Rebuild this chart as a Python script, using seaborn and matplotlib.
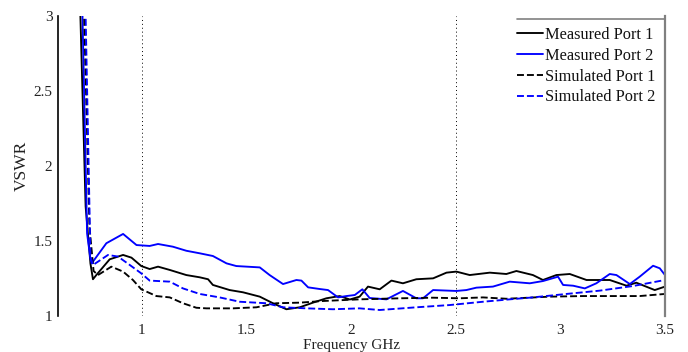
import numpy as np
import pandas as pd
import matplotlib
matplotlib.use("Agg")
import matplotlib.pyplot as plt
import seaborn as sns
from matplotlib.lines import Line2D

# ---------------- data ----------------
meas1_f = [0.700, 0.707, 0.732, 0.755, 0.767, 0.783, 0.847, 0.911, 0.951, 0.998, 1.038, 1.078,
           1.134, 1.213, 1.277, 1.317, 1.340, 1.420, 1.484, 1.564, 1.627, 1.691, 1.755, 1.818,
           1.882, 1.946, 1.994, 2.041, 2.081, 2.137, 2.193, 2.248, 2.312, 2.392, 2.456, 2.503,
           2.567, 2.663, 2.742, 2.790, 2.869, 2.917, 2.981, 3.045, 3.125, 3.236, 3.316, 3.363,
           3.451, 3.500]
meas1_v = [3.40, 3.00, 1.73, 1.35, 1.245, 1.273, 1.378, 1.407, 1.389, 1.333, 1.313, 1.329,
           1.307, 1.273, 1.258, 1.245, 1.207, 1.173, 1.158, 1.129, 1.085, 1.045, 1.058, 1.089,
           1.118, 1.133, 1.110, 1.129, 1.196, 1.178, 1.236, 1.218, 1.245, 1.251, 1.289, 1.296,
           1.273, 1.289, 1.280, 1.300, 1.273, 1.240, 1.273, 1.280, 1.240, 1.240, 1.202, 1.222,
           1.173, 1.196]

meas2_f = [0.710, 0.717, 0.739, 0.755, 0.761, 0.831, 0.911, 0.975, 1.038, 1.078, 1.149, 1.213,
           1.277, 1.340, 1.405, 1.452, 1.564, 1.611, 1.675, 1.739, 1.763, 1.795, 1.850, 1.890,
           1.938, 1.978, 2.018, 2.054, 2.089, 2.169, 2.248, 2.312, 2.344, 2.392, 2.503, 2.551,
           2.599, 2.678, 2.758, 2.854, 2.917, 2.989, 3.013, 3.061, 3.117, 3.172, 3.236, 3.268,
           3.332, 3.379, 3.443, 3.475, 3.500]
meas2_v = [3.40, 3.00, 1.55, 1.38, 1.351, 1.485, 1.547, 1.473, 1.467, 1.480, 1.462, 1.435,
           1.418, 1.400, 1.351, 1.333, 1.324, 1.273, 1.213, 1.240, 1.236, 1.191, 1.180, 1.173,
           1.124, 1.133, 1.140, 1.178, 1.120, 1.111, 1.167, 1.118, 1.118, 1.173, 1.167, 1.173,
           1.189, 1.196, 1.229, 1.218, 1.233, 1.262, 1.207, 1.202, 1.184, 1.218, 1.280, 1.273,
           1.213, 1.262, 1.335, 1.318, 1.273]

sim1_f = [0.718, 0.725, 0.750, 0.770, 0.791, 0.855, 0.911, 0.958, 0.998, 1.070, 1.134, 1.197,
          1.261, 1.309, 1.436, 1.548, 1.643, 1.755, 1.866, 2.040, 2.233, 2.392, 2.519, 2.630,
          2.742, 2.790, 2.949, 3.108, 3.268, 3.379, 3.500]
sim1_v = [3.40, 3.00, 1.60, 1.30, 1.273, 1.329, 1.296, 1.240, 1.178, 1.133, 1.124, 1.085,
          1.055, 1.051, 1.051, 1.058, 1.085, 1.089, 1.100, 1.111, 1.118, 1.122, 1.118, 1.124,
          1.115, 1.118, 1.129, 1.133, 1.133, 1.133, 1.147]

sim2_f = [0.725, 0.732, 0.755, 0.767, 0.839, 0.887, 0.943, 0.998, 1.038, 1.134, 1.197, 1.277,
          1.372, 1.468, 1.596, 1.675, 1.787, 1.914, 2.040, 2.137, 2.312, 2.471, 2.630, 2.758,
          2.869, 3.029, 3.188, 3.348, 3.500]
sim2_v = [3.40, 3.00, 1.396, 1.340, 1.407, 1.396, 1.340, 1.284, 1.236, 1.229, 1.184, 1.147,
          1.124, 1.095, 1.085, 1.058, 1.051, 1.045, 1.051, 1.040, 1.058, 1.073, 1.095, 1.111,
          1.124, 1.147, 1.169, 1.200, 1.240]

labels = ["Measured Port 1", "Measured Port 2", "Simulated Port 1", "Simulated Port 2"]
x_ticks = [1, 1.5, 2, 2.5, 3, 3.5]
x_tick_labels = ["1", "1.5", "2", "2.5", "3", "3.5"]
y_ticks = [1, 1.5, 2, 2.5, 3]
y_tick_labels = ["1", "1.5", "2", "2.5", "3"]
grid_x = [1, 2.5]

# ---------------- style ----------------
sns.set_theme(style="white")
plt.rcParams["font.family"] = ["Liberation Serif", "DejaVu Serif"]
plt.rcParams["font.size"] = 10.5

fig = plt.figure(figsize=(6.88, 3.52), dpi=100)
ax = fig.add_axes([58 / 688, 1 - 316 / 352, (665 - 58) / 688, 300 / 352])

series = [
    (meas1_f, meas1_v, labels[0], "black", "-"),
    (meas2_f, meas2_v, labels[1], "#0000ff", "-"),
    (sim1_f, sim1_v, labels[2], "black", "--"),
    (sim2_f, sim2_v, labels[3], "#0000ff", "--"),
]
for f, v, lab, col, ls in series:
    df = pd.DataFrame({"Frequency": f, "VSWR": v})
    sns.lineplot(data=df, x="Frequency", y="VSWR", ax=ax, color=col,
                 linestyle=ls, linewidth=1.35, label=lab, sort=False)

for gx in grid_x:
    ax.axvline(gx, color="black", linestyle=(0, (1, 3)), linewidth=0.7, zorder=0)

ax.set_xlim(0.6, 3.5)
ax.set_ylim(1, 3)
ax.set_xticks(x_ticks)
ax.set_xticklabels(x_tick_labels)
ax.set_yticks(y_ticks)
ax.set_yticklabels(y_tick_labels)
ax.tick_params(axis="both", length=0, labelsize=11, colors="#222222")
ax.tick_params(axis="x", pad=6)
ax.tick_params(axis="y", pad=4)

ax.set_xlabel("Frequency GHz", fontsize=11, labelpad=1, color="#222222")
ax.xaxis.set_label_coords(0.483, -0.075)
ax.set_ylabel("VSWR", fontsize=12.5, color="#222222")
ax.yaxis.set_label_coords(-0.046, 0.5)

for s in ["top", "bottom"]:
    ax.spines[s].set_visible(False)
ax.spines["left"].set_color("black")
ax.spines["left"].set_linewidth(1.2)
ax.spines["right"].set_color("#808080")
ax.spines["right"].set_linewidth(1.6)

leg = ax.legend(loc="upper right", bbox_to_anchor=(1.0, 0.997), frameon=False,
                fontsize=11.8, handlelength=1.6, handletextpad=0.1,
                labelspacing=0.3, borderaxespad=0.2)
for t in leg.get_texts():
    t.set_color("#111111")

# legend frame top edge (the reference shows only this edge)
ax.add_line(Line2D([0.756, 1.0], [0.99, 0.99], transform=ax.transAxes,
                   color="#808080", linewidth=1.2, clip_on=False))

fig.savefig("out.png", dpi=100)
